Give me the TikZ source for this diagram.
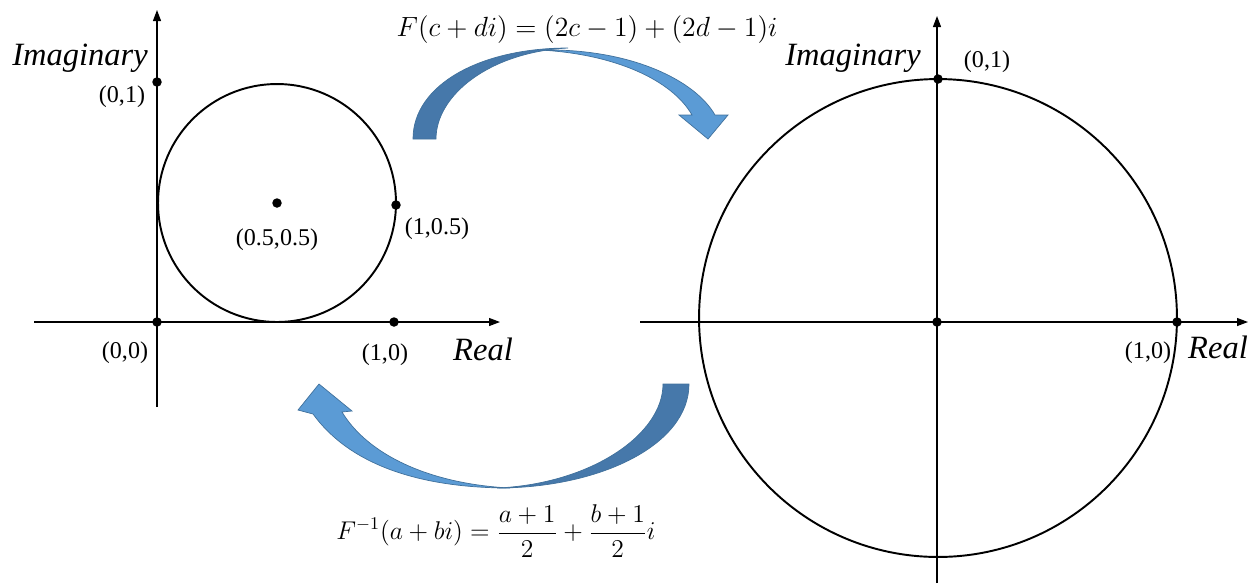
\documentclass[tikz,border=0pt]{standalone}
\usepackage{fix-cm}
\usepackage[no-math]{fontspec}
\setmainfont{Liberation Serif}[ItalicFont={Liberation Serif Italic}]
\usetikzlibrary{arrows.meta}
\definecolor{ribdark}{HTML}{4678AA}
\definecolor{riblight}{HTML}{5B9BD5}
\definecolor{ribedge}{HTML}{41719C}

\begin{document}
\begin{tikzpicture}[x=0.02cm,y=-0.02cm,
 dot/.style={circle,fill=black,inner sep=0pt,minimum size=1.9mm},
 lab/.style={inner sep=0pt,anchor=base,font=\fontsize{13.7}{16}\selectfont},
 axlab/.style={inner sep=0pt,anchor=base,font=\fontsize{18.5}{22}\selectfont\itshape},
 formula/.style={inner sep=0pt,font=\fontsize{15.8}{18}\selectfont},
 ax/.style={line width=0.7pt,-{Triangle[length=2.2mm,width=1.6mm]}},
 ring/.style={line width=1.1pt},
 ribback/.style={fill=ribdark,draw=ribedge,line width=0.4pt},
 ribfront/.style={fill=riblight,draw=ribedge,line width=0.4pt}]
\useasboundingbox (0,0) rectangle (1254,583);
% left plane
\coordinate (lxa) at (34,322);
\coordinate (lxb) at (500,322);
\coordinate (lya) at (157,407);
\coordinate (lyb) at (157,10);
\draw[ax] (lxa) -- (lxb);
\draw[ax] (lya) -- (lyb);
\node[dot] (l00) at (157,322) {};
\node[dot] (l01) at (157,82) {};
\node[dot] (lc) at (277,203) {};
\node[dot] (l105) at (396,205) {};
\node[dot] (l10) at (394,322) {};
\draw[ring] (lc.center) circle[radius=2.38cm];
\node[axlab] (limag) at (80,65) {Imaginary};
\node[lab] (l01t) at (122,102) {(0,1)};
\node[lab] (lct) at (277,245) {(0.5,0.5)};
\node[lab] (l105t) at (437,234) {(1,0.5)};
\node[lab] (l00t) at (125,358) {(0,0)};
\node[lab] (l10t) at (385,360) {(1,0)};
\node[axlab] (lreal) at (483,360) {Real};
% right plane
\coordinate (rxa) at (640,322);
\coordinate (rxb) at (1248,322);
\coordinate (rya) at (937,583);
\coordinate (ryb) at (937,16);
\coordinate (rc) at (938,318);
\draw[ax] (rxa) -- (rxb);
\draw[ax] (rya) -- (ryb);
\draw[ring] (rc) circle[radius=4.78cm];
\node[dot] (r00) at (937,322) {};
\node[dot] (r01) at (938,79) {};
\node[dot] (r10) at (1177,322) {};
\node[axlab] (rimag) at (853,65) {Imaginary};
\node[lab] (r01t) at (987,67) {(0,1)};
\node[lab] (r10t) at (1148,358) {(1,0)};
\node[axlab] (rreal) at (1218,358) {Real};
% curved arrows
\fill[ribback] (413,139) .. controls (413,85) and (480,48) .. (568,48)
 .. controls (490,52) and (436,95) .. (436,139) -- cycle;
\fill[ribfront] (540,50) .. controls (630,48) and (695,80) .. (715,115)
 -- (728,115) -- (708,139) -- (679,115) -- (692,115)
 .. controls (672,80) and (615,54) .. (540,50) -- cycle;
\fill[ribback] (689,384) .. controls (689,445) and (600,488) .. (497,488)
 .. controls (590,484) and (663,435) .. (663,384) -- cycle;
\fill[ribfront] (313,414) .. controls (350,465) and (420,488) .. (510,488)
 .. controls (430,484) and (368,455) .. (342,412)
 -- (352,411) -- (319,384) -- (298,410) -- cycle;
% maps
\node[formula] (fwd) at (587,30) {$F(c+di)=(2c-1)+(2d-1)i$};
\node[formula,font=\fontsize{14.6}{18}\selectfont] (inv) at (496,531) {$\displaystyle F^{-1}(a+bi)=\frac{a+1}{2}+\frac{b+1}{2}i$};
\end{tikzpicture}
\end{document}
